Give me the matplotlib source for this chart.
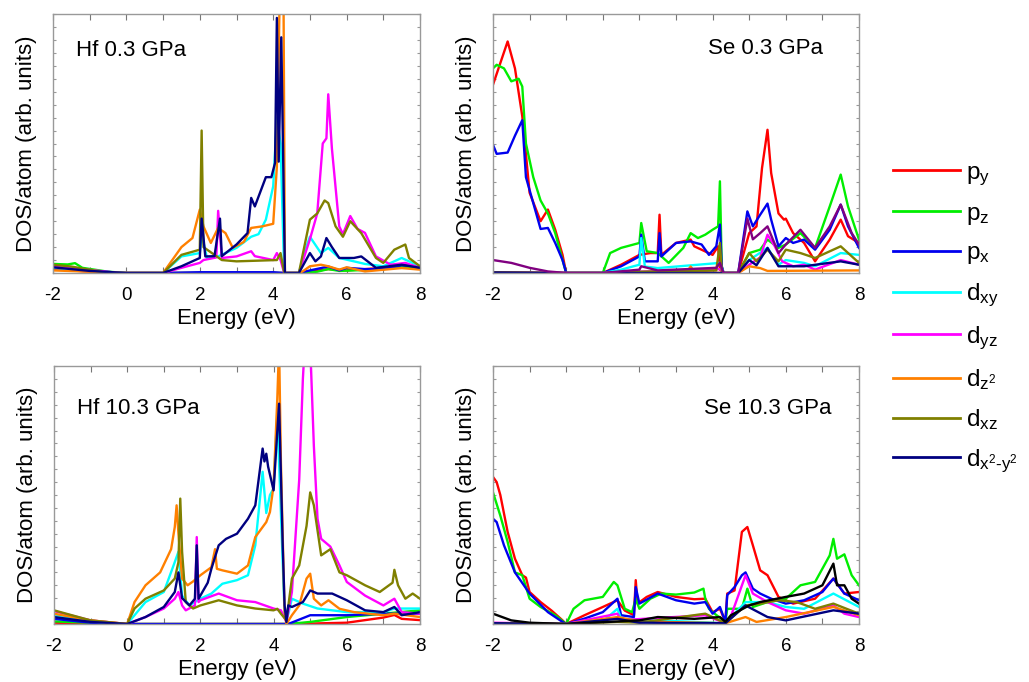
import matplotlib
matplotlib.use("Agg")
import matplotlib.pyplot as plt
from matplotlib.lines import Line2D
from matplotlib.ticker import MultipleLocator

plt.rcParams['font.family'] = ['Liberation Sans', 'DejaVu Sans']
plt.rcParams['mathtext.fontset'] = 'custom'
plt.rcParams['mathtext.rm'] = 'Liberation Sans'
plt.rcParams['mathtext.it'] = 'Liberation Sans'
plt.rcParams['mathtext.bf'] = 'Liberation Sans'

orbitals = ['py', 'pz', 'px', 'dxy', 'dyz', 'dz2', 'dxz', 'dx2y2']
legend_labels = [r'p$_\mathregular{y}$', r'p$_\mathregular{z}$', r'p$_\mathregular{x}$',
                 r'd$_\mathregular{xy}$', r'd$_\mathregular{yz}$', r'd$_\mathregular{z^2}$',
                 r'd$_\mathregular{xz}$', r'd$_\mathregular{x^2\text{-}y^2}$']
colors = ['#ff0000', '#00ee00', '#0000ee', '#00ffff', '#ff00ff', '#ff8000', '#808000', '#000080']
panel_titles = ['Hf 0.3 GPa', 'Se 0.3 GPa', 'Hf 10.3 GPa', 'Se 10.3 GPa']
xticks = [-2, 0, 2, 4, 6, 8]

# ---------------- Hf 0.3 GPa ----------------
hf03_py_E = [-2, -1, 0, 1, 4.3, 4.7, 5.0, 5.5, 6.0, 6.5, 7.0, 7.5, 8]
hf03_py = [1.5, 0.5, 0, 0, 0, 0, 0.5, 1.5, 1, 1.5, 2, 3, 2]
hf03_pz_E = [-2, -1.6, -1.4, -1.2, -0.5, 0, 1, 4.3, 4.7, 5.2, 5.5, 5.8, 6.2, 7, 7.5, 8]
hf03_pz = [3.5, 3.3, 3.8, 2.0, 0.5, 0, 0, 0, 0, 0.5, 1.5, 0.8, 1, 1.5, 2.5, 2]
hf03_px_E = [-2, -1, 0, 1, 2, 4, 4.3, 4.7, 5.0, 5.5, 5.8, 6.0, 6.5, 7, 7.5, 8]
hf03_px = [2, 0.8, 0, 0, 0.3, 0.3, 0, 0, 1, 2.5, 1, 2, 1.5, 1.5, 3, 2.5]
hf03_dxy_E = [-2, -1, 0, 1.0, 1.5, 2.0, 2.05, 2.2, 2.5, 3.0, 3.4, 3.6, 3.8, 4.0, 4.1, 4.2, 4.3,
              4.7, 4.9, 5.0, 5.3, 5.5, 5.8, 6.2, 6.5, 7.0, 7.5, 8]
hf03_dxy = [2, 0.8, 0, 0, 6.4, 7.7, 15, 5.5, 6.4, 9.7, 14, 15, 20.6, 33.5, 60, 50, 0,
            0, 10, 14, 7.7, 9.7, 5.8, 4.5, 3.5, 2.6, 5.8, 2.6]
hf03_dyz_E = [-2, -1, -0.2, 1.0, 1.5, 2.0, 2.1, 2.45, 2.5, 2.6, 3.0, 3.4, 3.5, 4.0, 4.1, 4.2, 4.3,
              4.7, 5.0, 5.2, 5.35, 5.45, 5.5, 5.6, 5.8, 5.9, 6.1, 6.3, 6.5, 6.8, 7.2, 7.6, 8]
hf03_dyz = [2.6, 1.2, 0, 0, 2, 3.9, 5, 6, 24, 5.8, 6.4, 8.4, 6.5, 5, 7.7, 5, 0,
            0, 13, 23, 50, 52, 69, 48, 18, 15, 22, 17, 15.5, 6.4, 3.2, 3.9, 2]
hf03_dz2_E = [-2, -1, 0, 1.0, 1.5, 1.8, 2.0, 2.1, 2.3, 2.5, 2.7, 2.9, 3.2, 3.4, 3.7, 4.0, 4.1,
              4.18, 4.28, 4.32, 4.7, 4.8, 5.0, 5.3, 5.5, 5.8, 6.0, 6.5, 7.5, 8]
hf03_dz2 = [1, 0.5, 0, 0, 10, 13.5, 24.5, 18, 11.6, 17.4, 15.4, 9.7, 12, 17.4, 18, 19, 41,
            110, 110, 0, 0, 0.6, 2.6, 3.2, 2.6, 1.3, 2.2, 0.6, 1.9, 1.3]
hf03_dxz_E = [-2, -1.5, -0.5, 1.0, 1.5, 2.0, 2.05, 2.1, 2.6, 3.0, 4.1, 4.2, 4.3, 4.7, 5.0, 5.2,
              5.4, 5.5, 5.7, 5.9, 6.1, 6.4, 6.8, 7.0, 7.3, 7.6, 7.7, 8]
hf03_dxz = [3.2, 2.5, 0, 0, 7, 9, 55, 10, 5, 4.5, 5, 7.7, 0, 0, 20.6, 23,
            28, 27, 18, 14, 20, 15.4, 5.8, 3.9, 9, 11, 5.8, 2.6]
hf03_dx2y2_E = [-2, -1, 0, 1.0, 1.5, 2.0, 2.05, 2.15, 2.4, 2.55, 2.6, 3.0, 3.3, 3.4, 3.5, 3.8,
                3.95, 4.05, 4.1, 4.15, 4.22, 4.32, 4.7, 5.0, 5.15, 5.3, 5.45, 5.6, 5.8, 6.2,
                6.4, 6.8, 7.5, 8]
hf03_dx2y2 = [2.2, 0.8, 0, 0, 2.6, 5.8, 21, 6.4, 6.5, 21, 6.5, 11, 15.4, 29, 25.7, 37,
              37, 42.5, 98.5, 43, 91, 0, 0, 7.7, 4.5, 6.4, 13.5, 10, 5.8, 5.8,
              6.4, 2, 3.2, 2]

# ---------------- Se 0.3 GPa ----------------
se03_py_E = [-2, -1.6, -1.4, -1.2, -1.0, -0.7, -0.5, -0.3, -0.1, 0, 1.0, 1.5, 2.0, 2.3, 2.5,
             2.55, 2.6, 3.0, 3.4, 3.5, 4.0, 4.15, 4.2, 4.3, 4.7, 5.0, 5.2, 5.35, 5.5, 5.6, 5.8,
             5.95, 6.0, 6.2, 6.5, 6.8, 7.2, 7.5, 7.7, 8]
se03_py = [72.7, 89.4, 79, 60.5, 31, 20, 24.5, 16.7, 7, 0, 0, 3.2, 7, 7.7, 7.7,
           22.5, 7, 11.6, 12.9, 10.3, 7, 10.3, 1.3, 0, 0, 15.4, 18, 40.5, 55.3, 38.6, 23,
           20.6, 21, 15.4, 11.6, 4.5, 12.9, 20.6, 14.2, 11.6]
se03_pz_E = [-2, -1.9, -1.7, -1.5, -1.3, -1.2, -1.1, -0.9, -0.7, -0.5, -0.3, -0.1, 0, 1.0, 1.2,
             1.5, 2.0, 2.05, 2.2, 2.5, 2.8, 3.2, 3.4, 3.6, 3.8, 4.0, 4.15, 4.2, 4.25, 4.3, 4.7,
             5.0, 5.3, 5.5, 5.8, 6.0, 6.4, 6.8, 7.2, 7.5, 7.7, 8]
se03_pz = [79, 80.4, 79, 74, 75, 72, 50, 37, 28, 23, 15.4, 5, 0, 0, 7.7,
           9.7, 11.6, 19.3, 8.4, 7.7, 3.9, 9.7, 15.4, 13.5, 14.8, 16.7, 18, 35.4, 2.6, 0, 0,
           7.7, 9, 12.9, 9.7, 11, 15.4, 9.7, 25.7, 38, 25.7, 12.9]
se03_px_E = [-2, -1.9, -1.6, -1.4, -1.2, -1.1, -0.9, -0.7, -0.5, -0.3, -0.1, 0, 1.0, 1.5, 2.0,
             2.05, 2.15, 2.5, 2.55, 2.6, 3.0, 3.4, 3.7, 3.9, 4.1, 4.2, 4.25, 4.3, 4.7, 4.95,
             5.1, 5.3, 5.5, 5.6, 5.8, 6.0, 6.2, 6.5, 6.8, 7.2, 7.5, 7.7, 8]
se03_px = [49.5, 46, 46.5, 53, 59, 37, 27, 17, 17.4, 11.6, 5, 0, 0, 2.6, 6.4,
           14.8, 4.5, 4.5, 15.4, 6.4, 11.6, 12.2, 11, 7, 10.3, 18.7, 2.6, 0, 0, 23.8,
           18, 22.5, 26.8, 20.6, 10.3, 13.5, 11.6, 12.9, 9, 16.7, 26.4, 18, 9.7]
se03_dxy_E = [-2, 0, 1.0, 1.5, 2.0, 2.05, 2.15, 2.5, 4.2, 4.3, 4.7, 5.0, 5.5, 5.8, 6.0, 6.5, 6.8, 7.5, 8]
se03_dxy = [0.3, 0, 0, 1.3, 3.2, 13.5, 2.5, 1.9, 3.9, 0, 0, 5, 9.7, 3.2, 5, 3.9, 2.6, 7.7, 7]
se03_dyz_E = [-2, 0, 1, 2, 4.2, 4.3, 4.7, 5.0, 5.3, 5.5, 5.7, 5.9, 6.2, 6.5, 6.8, 7.5, 8]
se03_dyz = [0.3, 0, 0, 0.5, 1.5, 0, 0, 3.2, 6, 14.8, 10.3, 4.5, 2.6, 3.2, 1.3, 5, 3.2]
se03_dz2_E = [-2, 0, 1, 3.3, 3.4, 3.5, 4.3, 4.7, 5.0, 5.3, 5.5, 8]
se03_dz2 = [0.2, 0, 0, 0.5, 2.5, 0.5, 0, 0, 2.6, 1.9, 0.8, 1]
se03_dxz_E = [-2, 0, 1, 2.0, 4.1, 4.2, 4.25, 4.3, 4.7, 5.0, 5.2, 5.5, 5.8, 6.0, 6.4, 6.8, 7.5, 8]
se03_dxz = [0.2, 0, 0, 0.5, 1, 11.6, 1, 0, 0, 7.7, 4.5, 9, 4.5, 9, 7.7, 5.8, 10.3, 3.9]
se03_dx2y2_E = [-2, 0, 1, 4.3, 4.7, 5.0, 5.2, 5.5, 5.8, 6.5, 7.5, 8]
se03_dx2y2 = [0.2, 0, 0, 0, 0, 5, 3, 9.7, 2.6, 2.6, 4.5, 3.2]
se03_extra_E = [-2, -1.5, -1, -0.5, 0, 1, 2.0, 2.05, 2.5, 4.1, 4.2, 4.3, 4.7, 4.95, 5.1, 5.3,
                5.5, 5.8, 6.0, 6.4, 6.8, 7.2, 7.5, 7.8, 8]
se03_extra = [5, 3.9, 2, 0.6, 0, 0, 1.3, 2.6, 1, 2, 3.9, 0, 0, 21, 13, 15.4,
              18, 7.7, 11, 16.7, 9.7, 18, 26.4, 15.4, 11]

# ---------------- Hf 10.3 GPa ----------------
hf10_py_E = [-2, 0, 4.5, 6.0, 7.0, 7.3, 7.5, 8]
hf10_py = [0.5, 0, 0, 0.5, 2.5, 3.5, 2, 1.5]
hf10_pz_E = [-2, 0, 4.4, 5.0, 6.0, 7.0, 8]
hf10_pz = [1, 0, 0, 0.8, 2.7, 4, 5.3]
hf10_px_E = [-2, -1, 0, 4.4, 5.0, 5.5, 6.0, 7.0, 8]
hf10_px = [2, 0.5, 0, 0, 3.4, 3.4, 3.4, 4, 4]
hf10_dxy_E = [-2, -1, 0, 0.5, 1.0, 1.3, 1.4, 1.5, 1.7, 2.0, 2.3, 2.6, 3.0, 3.3, 3.5, 3.7, 3.8,
              3.9, 4.0, 4.1, 4.2, 4.3, 4.35, 4.5, 4.8, 5.2, 6.0, 7.0, 7.3, 8]
hf10_dxy = [3.4, 1, 0, 8.5, 12.4, 24, 28, 11, 7.2, 9.8, 11.8, 15.6, 17, 18.9, 30.5, 59, 43,
            50, 52.5, 82, 43, 4, 0.8, 9.8, 7.9, 6, 4.6, 4.6, 6, 6]
hf10_dyz_E = [-2, -1, 0, 0.5, 1.0, 1.3, 1.4, 1.5, 1.6, 1.85, 1.9, 1.95, 2.0, 2.5, 3.0, 3.5, 4.0,
              4.2, 4.35, 4.5, 4.7, 4.8, 4.85, 5.0, 5.1, 5.2, 5.3, 5.55, 5.8, 6.0, 6.5, 7.0,
              7.3, 7.5, 8]
hf10_dyz = [5, 1.4, 0, 2.7, 6, 9.8, 12.4, 7.2, 5.3, 7.2, 33.7, 8.5, 9.2, 11.8, 9.2, 8.5, 6,
            5.3, 0.8, 12.4, 56, 95, 108, 108, 69, 40.8, 33, 30, 22.7, 16.3, 11, 7.2,
            9.8, 4.6, 4]
hf10_dz2_E = [-2, -1, 0, 0.2, 0.5, 0.9, 1.2, 1.3, 1.35, 1.4, 1.5, 1.65, 1.8, 2.0, 2.3, 2.4,
              2.45, 2.6, 3.0, 3.3, 3.5, 3.8, 3.9, 4.0, 4.1, 4.15, 4.2, 4.3, 4.35, 4.5, 4.7,
              4.9, 5.0, 5.1, 5.3, 5.5, 5.8, 6.2, 7.0, 7.3, 8]
hf10_dz2 = [4, 1.4, 0, 8.5, 15, 20, 29, 37.6, 46, 35, 17.6, 15, 16.5, 18.9, 22, 29,
            21.4, 20.8, 19.5, 22.7, 33.7, 39.5, 43.4, 53.7, 87, 108, 62.8, 4.6, 0, 3.4, 7.2,
            17.6, 19.5, 9.8, 7.2, 9.2, 5.9, 4.6, 3.4, 4, 2.7]
hf10_dxz_E = [-2, -1, 0, 0.2, 0.5, 1.0, 1.3, 1.4, 1.45, 1.5, 1.6, 1.8, 2.0, 2.5, 3.0, 3.5,
              4.0, 4.1, 4.2, 4.35, 4.5, 4.7, 4.9, 5.0, 5.1, 5.3, 5.55, 5.8, 6.0, 6.5, 6.9,
              7.25, 7.3, 7.4, 7.6, 7.8, 8]
hf10_dxz = [5.3, 1.4, 0, 6, 9.8, 13, 17.6, 24, 48.6, 28, 8.5, 6, 7.2, 9.2, 7.2, 6,
            5.3, 5.9, 4, 1.4, 17.6, 22.7, 38, 51, 46, 26.6, 29, 20, 18.9, 15, 12.4,
            16, 21, 15, 9.8, 11.8, 9.8]
hf10_dx2y2_E = [-2, -1, 0, 0.5, 1.0, 1.3, 1.4, 1.5, 1.7, 1.85, 1.9, 1.95, 2.2, 2.3, 2.5, 2.7,
                3.0, 3.3, 3.5, 3.7, 3.75, 3.8, 3.85, 4.0, 4.1, 4.15, 4.25, 4.3, 4.35, 4.4,
                4.5, 4.8, 5.0, 5.2, 5.6, 6.0, 6.5, 7.0, 7.3, 7.5, 8]
hf10_dx2y2 = [2.7, 0.8, 0, 2.7, 6.6, 12.4, 20, 10, 7.2, 9.8, 30.5, 9.8, 16, 21.4, 30.5, 33,
              35, 40.8, 46, 68, 63, 66, 61, 51.8, 74.4, 85.4, 30, 7.2, 0.8, 7.2,
              6.6, 8.5, 13, 11.8, 11.8, 9.2, 5.3, 4.6, 6.6, 3.4, 4.6]

# ---------------- Se 10.3 GPa ----------------
se10_py_E = [-2, -1.9, -1.8, -1.6, -1.4, -1.2, -1.1, -1.0, -0.7, -0.4, -0.1, 0, 0.5, 1.0, 1.4,
             1.6, 1.85, 1.9, 1.95, 2.2, 2.5, 3.0, 3.5, 3.8, 3.9, 4.0, 4.2, 4.35, 4.4, 4.6, 4.8,
             4.95, 5.1, 5.3, 5.5, 5.8, 6.2, 6.8, 7.3, 7.6, 8]
se10_py = [57, 55, 50, 35.7, 25.3, 18.9, 18, 12.4, 8.5, 5.2, 1.4, 0, 3.4, 6.6, 9.2,
           5.2, 3.4, 17, 7.9, 10.5, 12.4, 10.5, 9.6, 9.8, 7.2, 4.6, 5.9, 0.8, 11.8, 13, 35.7,
           37.6, 30.5, 20.8, 18.9, 10.5, 7.9, 9.8, 17.6, 11.8, 12.4]
se10_pz_E = [-2, -1.8, -1.6, -1.4, -1.2, -1.0, -0.7, -0.3, 0, 0.2, 0.5, 1.0, 1.3, 1.4, 1.6,
             1.8, 1.9, 2.0, 2.3, 2.6, 3.0, 3.5, 3.75, 3.8, 3.9, 4.0, 4.35, 4.4, 4.8, 4.95, 5.1,
             5.5, 6.0, 6.4, 6.8, 7.2, 7.3, 7.4, 7.6, 7.8, 8]
se10_pz = [51, 42, 31.8, 20, 18.9, 9.8, 6.6, 3.4, 0, 5.9, 9.2, 10.5, 16.3, 15, 5.9,
           4.6, 9.8, 5.9, 9.8, 11.8, 11.4, 12.2, 13.7, 9.8, 5.9, 4.6, 0.8, 5.9, 5.9, 13.7, 6.6,
           8.5, 9.8, 15, 16.3, 26.6, 33, 25.3, 27, 18.9, 15]
se10_px_E = [-2, -1.9, -1.7, -1.4, -1.0, -0.5, -0.1, 0, 0.5, 1.0, 1.4, 1.5, 1.85, 1.9, 2.0,
             2.5, 3.0, 3.5, 3.8, 4.0, 4.2, 4.35, 4.4, 4.6, 4.8, 4.9, 5.1, 5.3, 5.6, 6.0, 6.5,
             7.0, 7.3, 7.6, 8]
se10_px = [40.8, 39.5, 30.5, 20, 11.8, 4.6, 0.8, 0, 2.1, 4.6, 9.8, 3.4, 2.7, 14.3, 7.9,
           11.8, 9.2, 7.9, 8.5, 4, 6.6, 0.8, 11.2, 14.3, 18.9, 20, 13.7, 11.8, 9.8, 7.9, 9.2,
           12.4, 17.6, 11.8, 9.2]
se10_dxy_E = [-2, 0, 1.0, 1.4, 1.5, 4.35, 4.9, 5.5, 6.0, 6.5, 7.3, 8]
se10_dxy = [0.3, 0, 1, 5.9, 2, 0.3, 8.5, 8.5, 6.6, 5.9, 11.8, 6.6]
se10_dyz_E = [-2, 0, 1.4, 1.5, 3.8, 4.35, 4.5, 4.9, 5.1, 5.5, 6.0, 6.5, 7.3, 7.6, 8]
se10_dyz = [0.5, 0, 4, 1.5, 3.4, 0.3, 3, 18.9, 11.8, 8.5, 5.3, 4, 7.2, 4, 2.7]
se10_dz2_E = [-2, 0, 1.4, 2.0, 4.35, 4.9, 5.2, 6.0, 7.3, 8]
se10_dz2 = [0.3, 0, 2.7, 1, 0.3, 2.7, 0.8, 2.7, 6.6, 3.4]
se10_dxz_E = [-2, 0, 1.4, 2.0, 3.8, 4.35, 4.9, 5.3, 5.8, 6.3, 6.8, 7.3, 8]
se10_dxz = [0.3, 0, 0.8, 0.5, 4, 0.3, 7.2, 7.9, 9.2, 8.5, 5.9, 7.9, 4]
se10_dx2y2_E = [-2, 0, 1.4, 2.0, 4.35, 4.9, 5.5, 6.0, 7.3, 8]
se10_dx2y2 = [0.3, 0, 2, 0.5, 0.3, 7.2, 2.7, 1.4, 5.3, 4]
se10_extra_E = [-2, -1.5, -1, 0, 2.0, 2.5, 3.5, 4.2, 4.35, 4.5, 5.0, 5.3, 6.0, 6.5, 7.0, 7.3,
                7.4, 7.6, 7.8, 8]
se10_extra = [4, 1.4, 0.5, 0, 1.4, 2.7, 2, 2.7, 0.8, 3.4, 7.2, 8.5, 10.5, 11.8, 15, 23.4,
              15, 15, 9.8, 7.9]

g = globals()
panels = [
    ('hf03', None, None),
    ('se03', se03_extra_E, se03_extra),
    ('hf10', None, None),
    ('se10', se10_extra_E, se10_extra),
]
extra_colors = [None, '#800080', None, '#000000']

fig = plt.figure(figsize=(10.29, 6.82), dpi=100)
W, H = 1029, 682
boxes = [(53, 14, 420, 273), (493, 14, 859, 273), (54, 366, 420, 624), (493, 366, 859, 624)]
title_pos = [(0.063, 0.86), (0.587, 0.865), (0.063, 0.837), (0.577, 0.837)]
spine_col = '#999999'

for i, (key, exE, exY) in enumerate(panels):
    x0, y0, x1, y1 = boxes[i]
    ax = fig.add_axes([x0 / W, 1 - y1 / H, (x1 - x0) / W, (y1 - y0) / H])
    for orb, col in zip(orbitals, colors):
        ax.plot(g[f'{key}_{orb}_E'], g[f'{key}_{orb}'], color=col, lw=1.7,
                solid_joinstyle='round')
    if exE is not None:
        ax.plot(exE, exY, color=extra_colors[i], lw=1.7, solid_joinstyle='round')
    ax.set_xlim(-2, 8)
    ax.set_ylim(0, 100)
    ax.set_xticks(xticks)
    ax.set_xticklabels([str(t) for t in xticks])
    ax.xaxis.set_minor_locator(MultipleLocator(1))
    ax.yaxis.set_major_locator(MultipleLocator(5))
    ax.set_yticklabels([])
    ax.tick_params(axis='x', which='both', direction='in', top=True, bottom=True,
                   length=4, width=0.8, color='#777777', labelsize=13.5, pad=10)
    ax.tick_params(axis='y', which='both', direction='in', left=True, right=True,
                   length=2.5, width=0.8, color='#999999')
    for s in ax.spines.values():
        s.set_color(spine_col)
        s.set_linewidth(1.0)
    ax.set_xlabel('Energy (eV)', fontsize=16, labelpad=3)
    ax.set_ylabel('DOS/atom (arb. units)', fontsize=16, labelpad=8)
    tx, ty = title_pos[i]
    ax.text(tx, ty, panel_titles[i], transform=ax.transAxes, fontsize=16,
            ha='left', va='center')

handles = [Line2D([], [], color=c, lw=2) for c in colors]
fig.legend(handles, legend_labels, loc='upper left', bbox_to_anchor=(883 / W, 1 - 152 / H),
           frameon=False, fontsize=17.5, handlelength=2.75, handletextpad=0.25,
           labelspacing=0.63, borderaxespad=0)

fig.savefig('out.png', dpi=100)
